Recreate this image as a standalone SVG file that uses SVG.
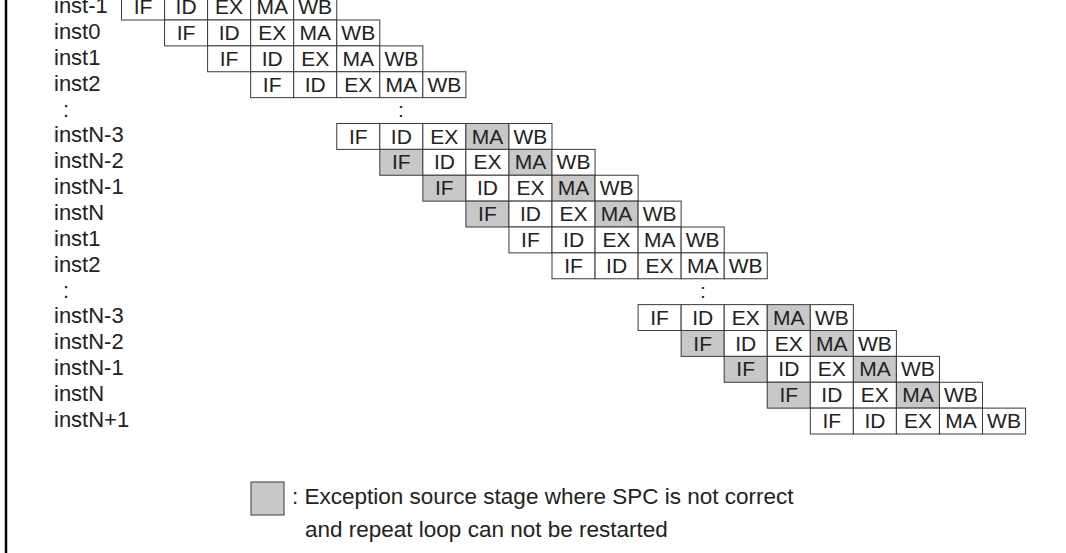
<svg xmlns="http://www.w3.org/2000/svg" width="1066" height="553" viewBox="0 0 1066 553">
<style>
.c{fill:#fff;stroke:#3a3a3a;stroke-width:1}
.g{fill:#c8c8c8;stroke:#3a3a3a;stroke-width:1}
.t{font-family:"Liberation Sans",Arial,sans-serif;font-size:21px;fill:#222;text-anchor:middle}
.l{font-family:"Liberation Sans",Arial,sans-serif;font-size:22px;fill:#222}
.k{font-family:"Liberation Sans",Arial,sans-serif;font-size:22.5px;fill:#222}
</style>
<rect x="0" y="0" width="1066" height="553" fill="#fff"/>
<line x1="6" y1="0" x2="6" y2="553" stroke="#000" stroke-width="2.5"/>
<g id="labels" class="l">
<text x="54" y="13">inst-1</text>
<text x="54" y="39">inst0</text>
<text x="54" y="65">inst1</text>
<text x="54" y="91">inst2</text>
<text x="63" y="117">:</text>
<text x="54" y="142">instN-3</text>
<text x="54" y="168">instN-2</text>
<text x="54" y="194">instN-1</text>
<text x="54" y="220">instN</text>
<text x="54" y="246">inst1</text>
<text x="54" y="272">inst2</text>
<text x="63" y="298">:</text>
<text x="54" y="323">instN-3</text>
<text x="54" y="349">instN-2</text>
<text x="54" y="375">instN-1</text>
<text x="54" y="401">instN</text>
<text x="54" y="427">instN+1</text>
</g>
<g id="dots" class="t">
<text x="401" y="117">:</text>
<text x="703" y="298">:</text>
</g>
<g id="row0" transform="translate(121.5,-5.875)"><rect class="c" x="0" width="43.05" height="25.875"/><rect class="c" x="43.05" width="43.05" height="25.875"/><rect class="c" x="86.1" width="43.05" height="25.875"/><rect class="c" x="129.15" width="43.05" height="25.875"/><rect class="c" x="172.2" width="43.05" height="25.875"/><g class="t"><text x="21.5" y="20">IF</text><text x="64.6" y="20">ID</text><text x="107.6" y="20">EX</text><text x="150.7" y="20">MA</text><text x="193.7" y="20">WB</text></g></g>
<g id="row1" transform="translate(164.55,20)"><rect class="c" x="0" width="43.05" height="25.875"/><rect class="c" x="43.05" width="43.05" height="25.875"/><rect class="c" x="86.1" width="43.05" height="25.875"/><rect class="c" x="129.15" width="43.05" height="25.875"/><rect class="c" x="172.2" width="43.05" height="25.875"/><g class="t"><text x="21.5" y="20">IF</text><text x="64.6" y="20">ID</text><text x="107.6" y="20">EX</text><text x="150.7" y="20">MA</text><text x="193.7" y="20">WB</text></g></g>
<g id="row2" transform="translate(207.6,45.875)"><rect class="c" x="0" width="43.05" height="25.875"/><rect class="c" x="43.05" width="43.05" height="25.875"/><rect class="c" x="86.1" width="43.05" height="25.875"/><rect class="c" x="129.15" width="43.05" height="25.875"/><rect class="c" x="172.2" width="43.05" height="25.875"/><g class="t"><text x="21.5" y="20">IF</text><text x="64.6" y="20">ID</text><text x="107.6" y="20">EX</text><text x="150.7" y="20">MA</text><text x="193.7" y="20">WB</text></g></g>
<g id="row3" transform="translate(250.65,71.75)"><rect class="c" x="0" width="43.05" height="25.875"/><rect class="c" x="43.05" width="43.05" height="25.875"/><rect class="c" x="86.1" width="43.05" height="25.875"/><rect class="c" x="129.15" width="43.05" height="25.875"/><rect class="c" x="172.2" width="43.05" height="25.875"/><g class="t"><text x="21.5" y="20">IF</text><text x="64.6" y="20">ID</text><text x="107.6" y="20">EX</text><text x="150.7" y="20">MA</text><text x="193.7" y="20">WB</text></g></g>
<g id="row5" transform="translate(336.75,123.5)"><rect class="c" x="0" width="43.05" height="25.875"/><rect class="c" x="43.05" width="43.05" height="25.875"/><rect class="c" x="86.1" width="43.05" height="25.875"/><rect class="g" x="129.15" width="43.05" height="25.875"/><rect class="c" x="172.2" width="43.05" height="25.875"/><g class="t"><text x="21.5" y="20">IF</text><text x="64.6" y="20">ID</text><text x="107.6" y="20">EX</text><text x="150.7" y="20">MA</text><text x="193.7" y="20">WB</text></g></g>
<g id="row6" transform="translate(379.8,149.375)"><rect class="g" x="0" width="43.05" height="25.875"/><rect class="c" x="43.05" width="43.05" height="25.875"/><rect class="c" x="86.1" width="43.05" height="25.875"/><rect class="g" x="129.15" width="43.05" height="25.875"/><rect class="c" x="172.2" width="43.05" height="25.875"/><g class="t"><text x="21.5" y="20">IF</text><text x="64.6" y="20">ID</text><text x="107.6" y="20">EX</text><text x="150.7" y="20">MA</text><text x="193.7" y="20">WB</text></g></g>
<g id="row7" transform="translate(422.85,175.25)"><rect class="g" x="0" width="43.05" height="25.875"/><rect class="c" x="43.05" width="43.05" height="25.875"/><rect class="c" x="86.1" width="43.05" height="25.875"/><rect class="g" x="129.15" width="43.05" height="25.875"/><rect class="c" x="172.2" width="43.05" height="25.875"/><g class="t"><text x="21.5" y="20">IF</text><text x="64.6" y="20">ID</text><text x="107.6" y="20">EX</text><text x="150.7" y="20">MA</text><text x="193.7" y="20">WB</text></g></g>
<g id="row8" transform="translate(465.9,201.125)"><rect class="g" x="0" width="43.05" height="25.875"/><rect class="c" x="43.05" width="43.05" height="25.875"/><rect class="c" x="86.1" width="43.05" height="25.875"/><rect class="g" x="129.15" width="43.05" height="25.875"/><rect class="c" x="172.2" width="43.05" height="25.875"/><g class="t"><text x="21.5" y="20">IF</text><text x="64.6" y="20">ID</text><text x="107.6" y="20">EX</text><text x="150.7" y="20">MA</text><text x="193.7" y="20">WB</text></g></g>
<g id="row9" transform="translate(508.95,227)"><rect class="c" x="0" width="43.05" height="25.875"/><rect class="c" x="43.05" width="43.05" height="25.875"/><rect class="c" x="86.1" width="43.05" height="25.875"/><rect class="c" x="129.15" width="43.05" height="25.875"/><rect class="c" x="172.2" width="43.05" height="25.875"/><g class="t"><text x="21.5" y="20">IF</text><text x="64.6" y="20">ID</text><text x="107.6" y="20">EX</text><text x="150.7" y="20">MA</text><text x="193.7" y="20">WB</text></g></g>
<g id="row10" transform="translate(552,252.875)"><rect class="c" x="0" width="43.05" height="25.875"/><rect class="c" x="43.05" width="43.05" height="25.875"/><rect class="c" x="86.1" width="43.05" height="25.875"/><rect class="c" x="129.15" width="43.05" height="25.875"/><rect class="c" x="172.2" width="43.05" height="25.875"/><g class="t"><text x="21.5" y="20">IF</text><text x="64.6" y="20">ID</text><text x="107.6" y="20">EX</text><text x="150.7" y="20">MA</text><text x="193.7" y="20">WB</text></g></g>
<g id="row12" transform="translate(638.1,304.625)"><rect class="c" x="0" width="43.05" height="25.875"/><rect class="c" x="43.05" width="43.05" height="25.875"/><rect class="c" x="86.1" width="43.05" height="25.875"/><rect class="g" x="129.15" width="43.05" height="25.875"/><rect class="c" x="172.2" width="43.05" height="25.875"/><g class="t"><text x="21.5" y="20">IF</text><text x="64.6" y="20">ID</text><text x="107.6" y="20">EX</text><text x="150.7" y="20">MA</text><text x="193.7" y="20">WB</text></g></g>
<g id="row13" transform="translate(681.15,330.5)"><rect class="g" x="0" width="43.05" height="25.875"/><rect class="c" x="43.05" width="43.05" height="25.875"/><rect class="c" x="86.1" width="43.05" height="25.875"/><rect class="g" x="129.15" width="43.05" height="25.875"/><rect class="c" x="172.2" width="43.05" height="25.875"/><g class="t"><text x="21.5" y="20">IF</text><text x="64.6" y="20">ID</text><text x="107.6" y="20">EX</text><text x="150.7" y="20">MA</text><text x="193.7" y="20">WB</text></g></g>
<g id="row14" transform="translate(724.2,356.375)"><rect class="g" x="0" width="43.05" height="25.875"/><rect class="c" x="43.05" width="43.05" height="25.875"/><rect class="c" x="86.1" width="43.05" height="25.875"/><rect class="g" x="129.15" width="43.05" height="25.875"/><rect class="c" x="172.2" width="43.05" height="25.875"/><g class="t"><text x="21.5" y="20">IF</text><text x="64.6" y="20">ID</text><text x="107.6" y="20">EX</text><text x="150.7" y="20">MA</text><text x="193.7" y="20">WB</text></g></g>
<g id="row15" transform="translate(767.25,382.25)"><rect class="g" x="0" width="43.05" height="25.875"/><rect class="c" x="43.05" width="43.05" height="25.875"/><rect class="c" x="86.1" width="43.05" height="25.875"/><rect class="g" x="129.15" width="43.05" height="25.875"/><rect class="c" x="172.2" width="43.05" height="25.875"/><g class="t"><text x="21.5" y="20">IF</text><text x="64.6" y="20">ID</text><text x="107.6" y="20">EX</text><text x="150.7" y="20">MA</text><text x="193.7" y="20">WB</text></g></g>
<g id="row16" transform="translate(810.3,408.125)"><rect class="c" x="0" width="43.05" height="25.875"/><rect class="c" x="43.05" width="43.05" height="25.875"/><rect class="c" x="86.1" width="43.05" height="25.875"/><rect class="c" x="129.15" width="43.05" height="25.875"/><rect class="c" x="172.2" width="43.05" height="25.875"/><g class="t"><text x="21.5" y="20">IF</text><text x="64.6" y="20">ID</text><text x="107.6" y="20">EX</text><text x="150.7" y="20">MA</text><text x="193.7" y="20">WB</text></g></g>
<g id="legend">
<rect class="g" x="251" y="482" width="33" height="33"/>
<text class="k" x="292" y="504">: Exception source stage where SPC is not correct</text>
<text class="k" x="305" y="537">and repeat loop can not be restarted</text>
</g>
</svg>
